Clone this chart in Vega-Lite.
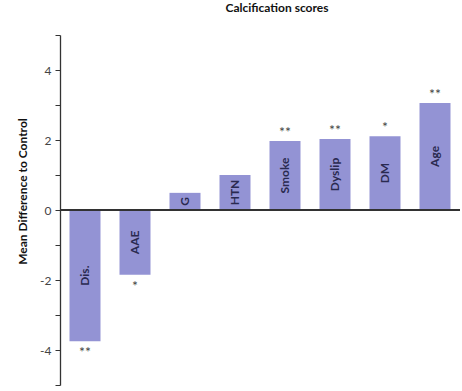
{
  "$schema": "https://vega.github.io/schema/vega-lite/v6.json",
  "width": 400,
  "height": 350,
  "autosize": "none",
  "padding": {"left": 60, "top": 35, "right": 2, "bottom": 6},
  "background": "white",
  "title": {
    "text": "Calcification scores",
    "font": "Lato",
    "fontSize": 12,
    "fontWeight": "bold",
    "color": "#111",
    "anchor": "middle",
    "dx": 17,
    "offset": 14
  },
  "config": {"view": {"stroke": null}, "font": "Lato"},
  "data": {
    "values": [
      {"factor": "Dis.", "value": -3.75, "sig": "**"},
      {"factor": "AAE", "value": -1.85, "sig": "*"},
      {"factor": "G", "value": 0.49, "sig": ""},
      {"factor": "HTN", "value": 1.0, "sig": ""},
      {"factor": "Smoke", "value": 1.97, "sig": "**"},
      {"factor": "Dyslip", "value": 2.03, "sig": "**"},
      {"factor": "DM", "value": 2.11, "sig": "*"},
      {"factor": "Age", "value": 3.06, "sig": "**"}
    ]
  },
  "encoding": {
    "x": {
      "field": "factor",
      "type": "nominal",
      "sort": null,
      "scale": {"paddingInner": 0.38, "paddingOuter": 0.19},
      "axis": null
    }
  },
  "layer": [
    {
      "mark": {"type": "bar", "color": "#9393d4"},
      "encoding": {
        "y": {
          "field": "value",
          "type": "quantitative",
          "scale": {"domain": [-5, 5], "nice": false},
          "axis": {
            "values": [-5, -4, -3, -2, -1, 0, 1, 2, 3, 4, 5],
            "tickCount": 20,
            "labelExpr": "(datum.value == -4 || datum.value == -2 || datum.value == 0 || datum.value == 2 || datum.value == 4) ? ('' + datum.value) : ''",
            "labelOverlap": false,
            "title": "Mean Difference to Control",
            "titleFont": "Lato",
            "titleFontSize": 12,
            "titleFontWeight": "bold",
            "titleColor": "#111",
            "titleX": -38,
            "titleY": 156,
            "titleAlign": "center",
            "titleBaseline": "middle",
            "titleAngle": -90,
            "grid": false,
            "domainColor": "#333",
            "domainWidth": 1.3,
            "tickColor": "#333",
            "tickSize": 5,
            "tickWidth": 1,
            "labelFont": "Lato",
            "labelFontSize": 12,
            "labelColor": "#444",
            "labelPadding": 4
          }
        },
        "y2": {"datum": 0}
      }
    },
    {
      "mark": {"type": "rule", "color": "#333", "strokeWidth": 1.3},
      "encoding": {"y": {"datum": 0}, "x": null}
    },
    {
      "transform": [{"calculate": "datum.value / 2", "as": "mid"}],
      "mark": {"type": "text", "angle": 270, "font": "Lato", "fontSize": 12, "fontWeight": "bold", "color": "#2a2a50", "align": "center", "baseline": "middle"},
      "encoding": {
        "y": {"field": "mid", "type": "quantitative"},
        "text": {"field": "factor"}
      }
    },
    {
      "transform": [{"filter": "datum.value > 0"}],
      "mark": {"type": "text", "font": "Lato", "fontSize": 14, "color": "#444", "baseline": "middle", "dy": -8},
      "encoding": {
        "y": {"field": "value", "type": "quantitative"},
        "text": {"field": "sig"}
      }
    },
    {
      "transform": [{"filter": "datum.value < 0"}],
      "mark": {"type": "text", "font": "Lato", "fontSize": 14, "color": "#444", "baseline": "middle", "dy": 12},
      "encoding": {
        "y": {"field": "value", "type": "quantitative"},
        "text": {"field": "sig"}
      }
    }
  ]
}
